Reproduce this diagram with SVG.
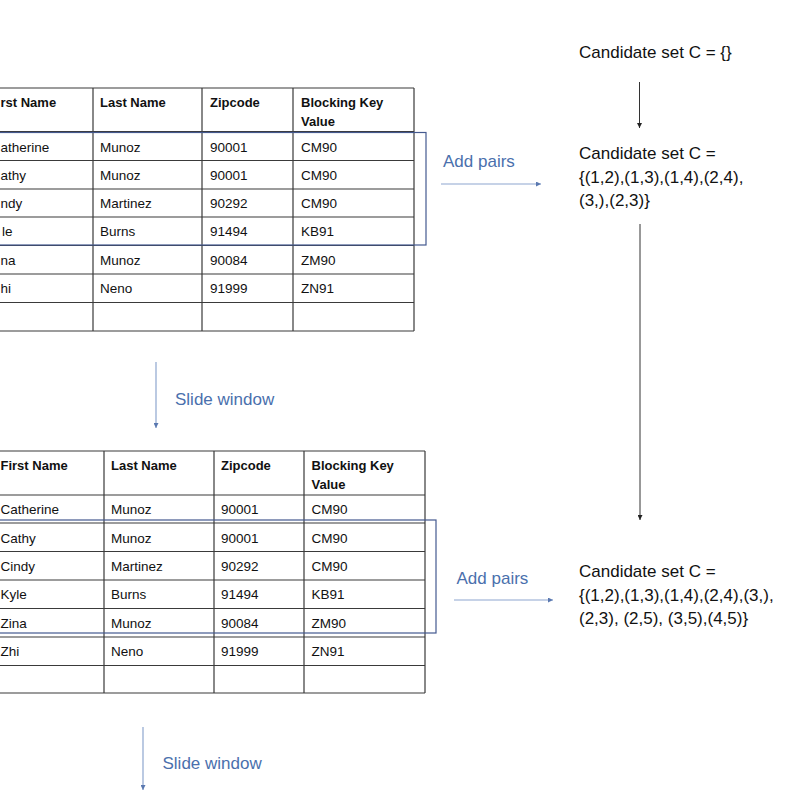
<svg xmlns="http://www.w3.org/2000/svg" width="800" height="793" viewBox="0 0 800 793">
<style>
  .grid { fill: none; stroke: #3a3a3a; stroke-width: 1.2; }
  .win { fill: none; stroke: #44598f; stroke-width: 1.2; }
  .hd { font-family: "Liberation Sans", Arial, sans-serif; font-size: 13px; font-weight: bold; fill: #111; }
  .cell { font-family: "Liberation Sans", Arial, sans-serif; font-size: 13.5px; fill: #111; }
  .set { font-family: "Liberation Sans", Arial, sans-serif; font-size: 17px; fill: #111; }
  .lbl { font-family: "Liberation Sans", Arial, sans-serif; font-size: 17px; fill: #4a70ad; }
  .bl { stroke: #8ea6cf; stroke-width: 1.2; fill: none; }
  .bk { stroke: #333; stroke-width: 1; fill: none; }
</style>
<defs>
  <marker id="ab" viewBox="0 0 10 10" refX="10" refY="5" markerWidth="5" markerHeight="5" orient="auto" markerUnits="userSpaceOnUse">
    <path d="M0,0 L10,5 L0,10 Z" fill="#5a78b0"/>
  </marker>
  <marker id="ak" viewBox="0 0 10 10" refX="10" refY="5" markerWidth="5" markerHeight="5" orient="auto" markerUnits="userSpaceOnUse">
    <path d="M0,0 L10,5 L0,10 Z" fill="#222"/>
  </marker>
</defs>
<rect width="800" height="793" fill="#fff"/>

<g id="table1">
  <path class="grid" d="M-20,88H414 M-20,131.5H414 M-20,160.5H414 M-20,189H414 M-20,217H414 M-20,245.5H414 M-20,274H414 M-20,302.5H414 M-20,331H414 M93,88V331 M202,88V331 M293,88V331 M414,88V331"/>
  <text class="hd" x="0.5" y="107">rst Name</text>
  <text class="hd" x="100" y="107">Last Name</text>
  <text class="hd" x="210" y="107">Zipcode</text>
  <text class="hd" x="301" y="107">Blocking Key</text>
  <text class="hd" x="301" y="125.5">Value</text>
  <g class="cell">
    <text x="0.5" y="151.5">atherine</text><text x="100" y="151.5">Munoz</text><text x="210" y="151.5">90001</text><text x="301" y="151.5">CM90</text>
    <text x="0.5" y="180">athy</text><text x="100" y="180">Munoz</text><text x="210" y="180">90001</text><text x="301" y="180">CM90</text>
    <text x="0.5" y="208">ndy</text><text x="100" y="208">Martinez</text><text x="210" y="208">90292</text><text x="301" y="208">CM90</text>
    <text x="2" y="236">le</text><text x="100" y="236">Burns</text><text x="210" y="236">91494</text><text x="301" y="236">KB91</text>
    <text x="0.5" y="264.5">na</text><text x="100" y="264.5">Munoz</text><text x="210" y="264.5">90084</text><text x="301" y="264.5">ZM90</text>
    <text x="0.5" y="293">hi</text><text x="100" y="293">Neno</text><text x="210" y="293">91999</text><text x="301" y="293">ZN91</text>
  </g>
  <rect class="win" x="-5" y="132.5" width="431" height="112.5"/>
</g>

<g id="table2">
  <path class="grid" d="M-10,451H425 M-10,495H425 M-10,523H425 M-10,551.5H425 M-10,580H425 M-10,608.5H425 M-10,637H425 M-10,665.5H425 M-10,693H425 M104,451V693 M214,451V693 M304,451V693 M425,451V693"/>
  <text class="hd" x="0.5" y="470">First Name</text>
  <text class="hd" x="111" y="470">Last Name</text>
  <text class="hd" x="221" y="470">Zipcode</text>
  <text class="hd" x="311.5" y="470">Blocking Key</text>
  <text class="hd" x="311.5" y="488.5">Value</text>
  <g class="cell">
    <text x="0.5" y="514">Catherine</text><text x="111" y="514">Munoz</text><text x="221" y="514">90001</text><text x="311.5" y="514">CM90</text>
    <text x="0.5" y="542.5">Cathy</text><text x="111" y="542.5">Munoz</text><text x="221" y="542.5">90001</text><text x="311.5" y="542.5">CM90</text>
    <text x="0.5" y="571">Cindy</text><text x="111" y="571">Martinez</text><text x="221" y="571">90292</text><text x="311.5" y="571">CM90</text>
    <text x="0.5" y="599">Kyle</text><text x="111" y="599">Burns</text><text x="221" y="599">91494</text><text x="311.5" y="599">KB91</text>
    <text x="0.5" y="627.5">Zina</text><text x="111" y="627.5">Munoz</text><text x="221" y="627.5">90084</text><text x="311.5" y="627.5">ZM90</text>
    <text x="0.5" y="656">Zhi</text><text x="111" y="656">Neno</text><text x="221" y="656">91999</text><text x="311.5" y="656">ZN91</text>
  </g>
  <rect class="win" x="-5" y="520" width="441" height="113"/>
</g>

<g id="set0">
  <text class="set" x="579" y="58">Candidate set C = {}</text>
</g>
<g id="set1">
  <text class="set" x="579" y="159">Candidate set C =</text>
  <text class="set" x="579" y="182.5">{(1,2),(1,3),(1,4),(2,4),</text>
  <text class="set" x="579" y="206">(3,),(2,3)}</text>
</g>
<g id="set2">
  <text class="set" x="579" y="577">Candidate set C =</text>
  <text class="set" x="579" y="600.5">{(1,2),(1,3),(1,4),(2,4),(3,),</text>
  <text class="set" x="579" y="624">(2,3), (2,5), (3,5),(4,5)}</text>
</g>

<g id="connectors">
  <line class="bk" x1="639.5" y1="82" x2="639.5" y2="128" marker-end="url(#ak)"/>
  <line class="bk" x1="640" y1="224" x2="640" y2="520" marker-end="url(#ak)"/>
  <line class="bl" x1="441" y1="184" x2="541" y2="184" marker-end="url(#ab)"/>
  <line class="bl" x1="454" y1="600" x2="553" y2="600" marker-end="url(#ab)"/>
  <line class="bl" x1="156" y1="362" x2="156" y2="428" marker-end="url(#ab)"/>
  <line class="bl" x1="143" y1="727" x2="143" y2="790" marker-end="url(#ab)"/>
  <text class="lbl" x="443" y="167">Add pairs</text>
  <text class="lbl" x="456.5" y="584">Add pairs</text>
  <text class="lbl" x="175" y="405">Slide window</text>
  <text class="lbl" x="162.5" y="769">Slide window</text>
</g>
</svg>
